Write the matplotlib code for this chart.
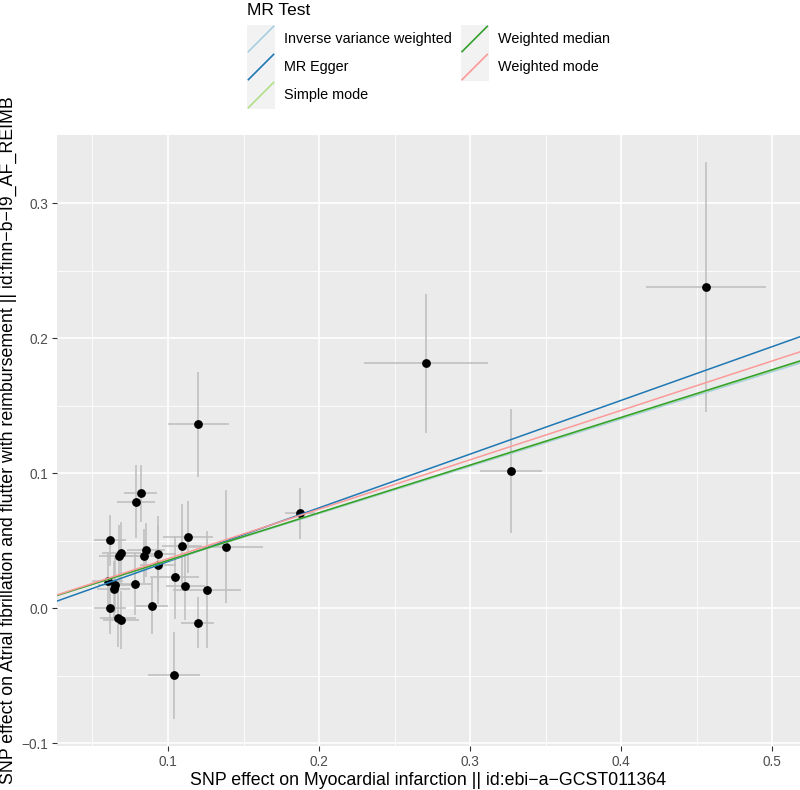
import matplotlib
matplotlib.use("Agg")
import matplotlib.pyplot as plt
from matplotlib.legend_handler import HandlerBase
from matplotlib.lines import Line2D
from matplotlib.patches import Rectangle

plt.rcParams['font.family'] = ['Liberation Sans', 'DejaVu Sans']

# SNP effects (exposure on x, outcome on y) with standard errors
bx = [0.1201, 0.0819, 0.0790, 0.0616, 0.0691, 0.0673, 0.0856, 0.0843, 0.0934, 0.1093,
      0.1135, 0.1382, 0.0932, 0.0600, 0.0647, 0.0640, 0.0784, 0.1044, 0.1113, 0.1258,
      0.0618, 0.0892, 0.0669, 0.0687, 0.1197, 0.1038, 0.1874, 0.2707, 0.3272, 0.4561]
by = [0.1361, 0.0850, 0.0788, 0.0501, 0.0407, 0.0388, 0.0427, 0.0383, 0.0402, 0.0459,
      0.0526, 0.0454, 0.0319, 0.0198, 0.0170, 0.0138, 0.0175, 0.0227, 0.0161, 0.0136,
      0.0000, 0.0015, -0.0072, -0.0091, -0.0109, -0.0499, 0.0701, 0.1813, 0.1015, 0.2376]
se_x = [0.0203, 0.0108, 0.0125, 0.0105, 0.0127, 0.0127, 0.0127, 0.0127, 0.0120, 0.0130,
        0.0166, 0.0245, 0.0120, 0.0105, 0.0110, 0.0110, 0.0110, 0.0160, 0.0129, 0.0228,
        0.0105, 0.0105, 0.0120, 0.0120, 0.0110, 0.0173, 0.0100, 0.0410, 0.0203, 0.0397]
se_y = [0.0388, 0.0210, 0.0270, 0.0190, 0.0230, 0.0230, 0.0200, 0.0200, 0.0280, 0.0310,
        0.0265, 0.0417, 0.0290, 0.0210, 0.0210, 0.0210, 0.0230, 0.0310, 0.0250, 0.0435,
        0.0190, 0.0210, 0.0216, 0.0216, 0.0190, 0.0320, 0.0190, 0.0514, 0.0460, 0.0927]

# MR method fits
methods = ["Inverse variance weighted", "MR Egger", "Simple mode",
           "Weighted median", "Weighted mode"]
slopes = [0.350, 0.398, 0.352, 0.353, 0.366]
intercepts = [0.0, -0.0054, 0.0, 0.0, 0.0]
colors = ["#A6CEE3", "#1F78B4", "#B2DF8A", "#33A02C", "#FB9A99"]

xticks = [0.1, 0.2, 0.3, 0.4, 0.5]
yticks = [-0.1, 0.0, 0.1, 0.2, 0.3]


class DiagKey(HandlerBase):
    def create_artists(self, legend, orig_handle, xdescent, ydescent,
                       width, height, fontsize, trans):
        bg = Rectangle((-xdescent, -ydescent), width, height,
                       facecolor="#F2F2F2", edgecolor="none", transform=trans)
        ln = Line2D([-xdescent + 1, -xdescent + width - 1],
                    [-ydescent + 1, -ydescent + height - 1],
                    color=orig_handle.get_color(), lw=1.2, transform=trans)
        return [bg, ln]


fig = plt.figure(figsize=(8, 7.9), dpi=100)
ax = fig.add_axes([57 / 800, 1 - 746 / 790, 743 / 800, (746 - 135) / 790])
ax.set_facecolor("#EBEBEB")
for s in ax.spines.values():
    s.set_visible(False)

ax.set_xlim(0.0265, 0.5185)
ax.set_ylim(-0.1022, 0.3504)
ax.set_xticks(xticks)
ax.set_yticks(yticks)
ax.set_xticklabels([f"{t:.1f}" for t in xticks])
ax.set_yticklabels([f"{t:.1f}".replace("-", "\u2212") for t in yticks])
ax.set_xticks([0.05, 0.15, 0.25, 0.35, 0.45], minor=True)
ax.set_yticks([-0.05, 0.05, 0.15, 0.25], minor=True)
ax.grid(which="major", color="white", lw=1.2)
ax.grid(which="minor", color="white", lw=0.6)
ax.set_axisbelow(True)
ax.tick_params(which="major", length=3.5, width=0.8, color="#333333",
               labelcolor="#4D4D4D", labelsize=9.8, pad=3)
ax.tick_params(which="minor", length=0)

ax.errorbar(bx, by, yerr=se_y, fmt="none", ecolor="#BDBDBD", elinewidth=1.1, capsize=0, zorder=2)
ax.errorbar(bx, by, xerr=se_x, fmt="none", ecolor="#BDBDBD", elinewidth=1.1, capsize=0, zorder=2)
ax.scatter(bx, by, s=40, color="black", zorder=3, linewidths=0)

handles = []
for m, b, a, c in zip(methods, slopes, intercepts, colors):
    h = ax.axline((0, a), slope=b, color=c, lw=1.1, zorder=4, label=m)
    handles.append(h)

ax.set_xlabel("SNP effect on Myocardial infarction || id:ebi\u2212a\u2212GCST011364",
              fontsize=12.8, labelpad=2)
ax.set_ylabel("SNP effect on Atrial fibrillation and flutter with reimbursement || id:finn\u2212b\u2212I9_AF_REIMB",
              fontsize=12.8, labelpad=3)

leg = fig.legend(handles=handles, labels=methods, ncol=2, loc="upper left",
                 bbox_to_anchor=(247 / 800, 1 - 3 / 790), frameon=False,
                 title="MR Test", title_fontsize=12.5, fontsize=10.4,
                 handler_map={Line2D: DiagKey()}, handlelength=1.94, handleheight=2.61,
                 labelspacing=0.0, handletextpad=0.62, columnspacing=0.62,
                 borderpad=0, borderaxespad=0, alignment="left")
leg._legend_box.sep = 5

plt.savefig("out.png", dpi=100)
